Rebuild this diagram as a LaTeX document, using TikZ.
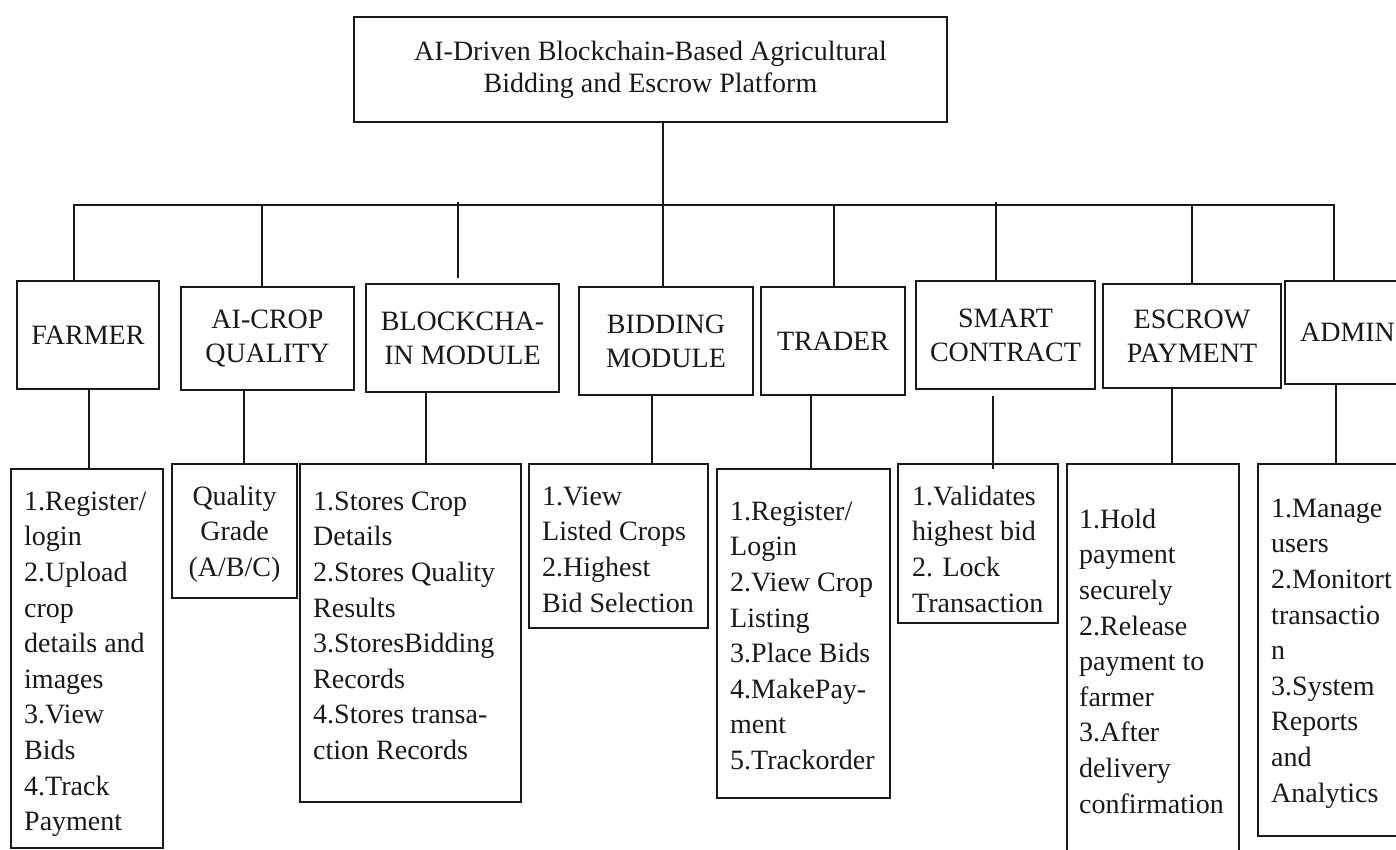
\documentclass[tikz,border=0pt]{standalone}
\usepackage{fontspec}
\setmainfont{Liberation Serif}
\usetikzlibrary{fit,calc}
\begin{document}
\begin{tikzpicture}[x=1pt,y=-1pt,
  box/.style={draw=black!90, line width=2.2pt, inner sep=0pt},
  conn/.style={draw=black!90, line width=2pt},
  modbox/.style={box, font=\fontsize{28}{34}\selectfont, align=center, text=black!90},
  listtxt/.style={font=\fontsize{28}{35.6}\selectfont, align=left, inner sep=0pt, anchor=north west, text=black!90},
]
\clip (0,0) rectangle (1396,850);
\fill[white] (0,0) rectangle (1396,850);

% title
\node[box, minimum width=593pt, minimum height=105pt, font=\fontsize{28}{32}\selectfont, align=center, text=black!90] (top) at (650.5,69.5)
  {\raisebox{0pt}{AI-Driven Blockchain-Based Agricultural}\\Bidding and Escrow Platform\rule[-4pt]{0pt}{0pt}};

% module boxes
\node[modbox, minimum width=142pt, minimum height=108pt] (farmer) at (88,335) {FARMER};
\node[modbox, minimum width=173pt, minimum height=103pt] (aicrop) at (267.5,338.5) {AI-CROP\\QUALITY};
\node[modbox, minimum width=193pt, minimum height=108pt] (chain) at (462.5,338) {BLOCKCHA-\\IN MODULE};
\node[modbox, minimum width=174pt, minimum height=108pt] (bidding) at (666,341) {BIDDING\\MODULE};
\node[modbox, minimum width=144pt, minimum height=108pt] (trader) at (833,341) {TRADER};
\node[modbox, minimum width=179pt, minimum height=108pt] (smart) at (1005.5,335) {SMART\\CONTRACT};
\node[modbox, minimum width=178pt, minimum height=104pt] (escrow) at (1192,336) {ESCROW\\PAYMENT};
\node[modbox, minimum width=125pt, minimum height=103pt] (admin) at (1347.5,332.5) {ADMIN};

% list boxes
\node[box, fit={(11,469)(163,848)}] (farmerL) {};
\node[box, fit={(172,464)(297,598)}] (aicropL) {};
\node[box, fit={(300,464)(521,802)}] (chainL) {};
\node[box, fit={(529,464)(708,628)}] (biddingL) {};
\node[box, fit={(717,469)(890,798)}] (traderL) {};
\node[box, fit={(898,464)(1058,623)}] (smartL) {};
\node[box, fit={(1067,464)(1239,870)}] (escrowL) {};
\node[box, fit={(1258,464)(1410,836)}] (adminL) {};

% list texts
\node[listtxt] (farmerT) at (24,485.1) {\strut 1.Register/\\login\\2.Upload\\crop\\details and\\images\\3.View\\Bids\\4.Track\\Payment};
\node[listtxt, anchor=north, align=center] (aicropT) at (234.5,480.1) {\strut Quality\\Grade\\(A/B/C)};
\node[listtxt] (chainT) at (313,485.1) {\strut 1.Stores Crop\\Details\\2.Stores Quality\\Results\\3.StoresBidding\\Records\\4.Stores transa-\\ction Records};
\node[listtxt] (biddingT) at (542,480.1) {\strut 1.View\\Listed Crops\\2.Highest\\Bid Selection};
\node[listtxt] (traderT) at (730,495.1) {\strut 1.Register/\\Login\\2.View Crop\\Listing\\3.Place Bids\\4.MakePay-\\ment\\5.Trackorder};
\node[listtxt] (smartT) at (912,480.1) {\strut 1.Validates\\highest bid\\2. Lock\\Transaction};
\node[listtxt] (escrowT) at (1079,503.1) {\strut 1.Hold\\payment\\securely\\2.Release\\payment to\\farmer\\3.After\\delivery\\confirmation};
\node[listtxt] (adminT) at (1271,492.1) {\strut 1.Manage\\users\\2.Monitort\\transactio\\n\\3.System\\Reports\\and\\Analytics};

% bus coordinates
\coordinate (s1) at (74,205);
\coordinate (s2) at (262,205);
\coordinate (s3) at (458,205);
\coordinate (s4) at (663,205);
\coordinate (s5) at (834,205);
\coordinate (s6) at (996,205);
\coordinate (s7) at (1192,205);
\coordinate (s8) at (1334,205);

% trunk and bus
\draw[conn] (top.south -| s4) -- (s4);
\draw[conn, line join=miter] (farmer.north -| s1) -- (s1) -- (s8) -- (admin.north -| s8);
\draw[conn] (s2) -- (s2 |- aicrop.north);
\draw[conn] ($(s3)+(0,-3)$) -- ($(s3 |- chain.north)+(0,-5)$);
\draw[conn] (s4) -- (s4 |- bidding.north);
\draw[conn] (s5) -- (s5 |- trader.north);
\draw[conn] ($(s6)+(0,-3)$) -- (s6 |- smart.north);
\draw[conn] (s7) -- (s7 |- escrow.north);

% lower stems
\coordinate (d1) at (89,0);
\coordinate (d2) at (244,0);
\coordinate (d3) at (426,0);
\coordinate (d4) at (652,0);
\coordinate (d5) at (811,0);
\coordinate (d6) at (993,0);
\coordinate (d7) at (1172,0);
\coordinate (d8) at (1336,0);
\draw[conn] (farmer.south -| d1) -- (farmerL.north -| d1);
\draw[conn] (aicrop.south -| d2) -- (aicropL.north -| d2);
\draw[conn] (chain.south -| d3) -- (chainL.north -| d3);
\draw[conn] (bidding.south -| d4) -- (biddingL.north -| d4);
\draw[conn] (trader.south -| d5) -- (traderL.north -| d5);
\draw[conn] ($(smart.south -| d6)+(0,6)$) -- ($(smartL.north -| d6)+(0,6)$);
\draw[conn] (escrow.south -| d7) -- (escrowL.north -| d7);
\draw[conn] (admin.south -| d8) -- (adminL.north -| d8);
\end{tikzpicture}
\end{document}
